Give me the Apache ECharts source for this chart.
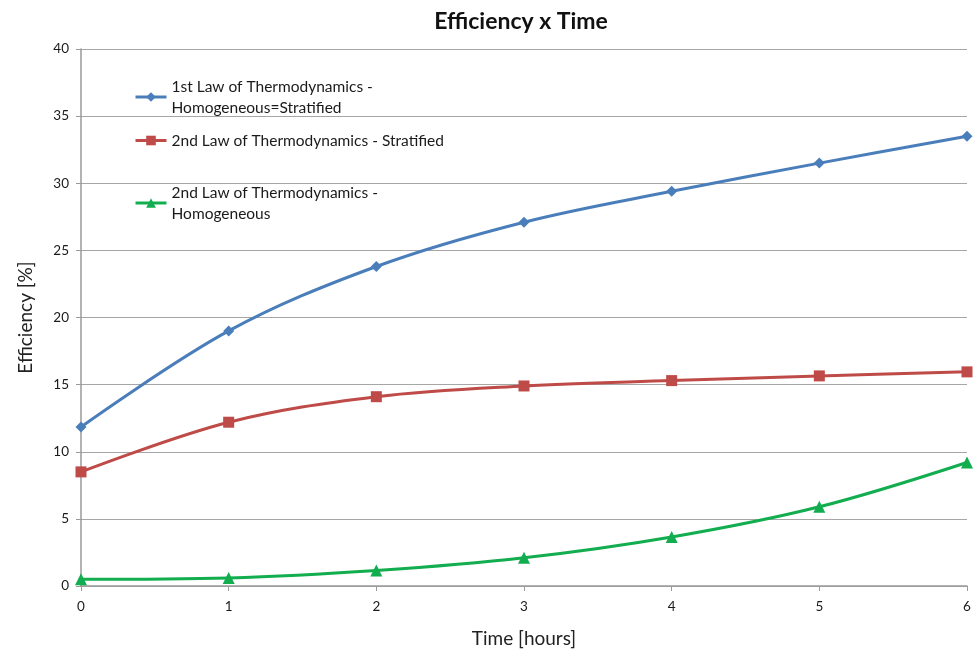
<!DOCTYPE html>
<html>
<head>
<meta charset="utf-8">
<script src="https://cdn.jsdelivr.net/npm/echarts@6/dist/echarts.min.js"></script>
<style>html,body{margin:0;padding:0;background:#fff}#c{width:977px;height:657px}</style>
</head>
<body>
<div id="c"></div>
<script>
var hours = [0, 1, 2, 3, 4, 5, 6];
var firstLaw = [11.85, 19.0, 23.8, 27.1, 29.4, 31.5, 33.5];
var secondLawStratified = [8.5, 12.2, 14.1, 14.9, 15.3, 15.65, 15.95];
var secondLawHomogeneous = [0.5, 0.6, 1.15, 2.1, 3.65, 5.9, 9.2];
var seriesNames = [
  '1st Law of Thermodynamics - Homogeneous=Stratified',
  '2nd Law of Thermodynamics - Stratified',
  '2nd Law of Thermodynamics - Homogeneous'
];
var legendLabels = [
  '1st Law of Thermodynamics -\nHomogeneous=Stratified',
  '2nd Law of Thermodynamics - Stratified',
  '2nd Law of Thermodynamics -\nHomogeneous'
];
var colors = ['#4a7ebb', '#be4b48', '#12ad4f'];
var symbols = ['diamond', 'rect', 'triangle'];
var symbolSizes = [11, 11, 12];
var allValues = [firstLaw, secondLawStratified, secondLawHomogeneous];

function pairs(vals) { return hours.map(function (h, i) { return [h, vals[i]]; }); }

var font = 'Lato, "Open Sans", sans-serif';
var legendTops = [71, 125, 177];
var legends = seriesNames.map(function (n, i) {
  return {
    data: [n],
    left: 129,
    top: legendTops[i],
    itemWidth: 31,
    itemHeight: 12,
    itemGap: 0,
    selectedMode: false,
    lineStyle: { width: 3 },
    formatter: function () { return legendLabels[i]; },
    textStyle: { fontFamily: font, fontSize: 15.5, color: '#1a1a1a', lineHeight: 21 }
  };
});

var chart = echarts.init(document.getElementById('c'), null, { renderer: 'canvas' });
chart.setOption({
  animation: false,
  color: colors,
  title: {
    text: 'Efficiency x Time',
    left: 516, top: 5, textAlign: 'center',
    textStyle: { fontFamily: font, fontSize: 23, fontWeight: 'bold', color: '#111' }
  },
  legend: legends,
  grid: { left: 81, right: 10, top: 49, bottom: 71 },
  xAxis: {
    type: 'value', min: 0, max: 6, interval: 1,
    name: 'Time [hours]', nameLocation: 'middle', nameGap: 43,
    nameTextStyle: { fontFamily: font, fontSize: 19, color: '#222' },
    axisLine: { lineStyle: { color: '#9a9a9a', width: 1.5 } },
    axisTick: { show: true, length: 5, lineStyle: { color: '#9a9a9a' } },
    axisLabel: { fontFamily: font, fontSize: 13.5, color: '#1a1a1a', margin: 14 },
    splitLine: { show: false }
  },
  yAxis: {
    type: 'value', min: 0, max: 40, interval: 5,
    name: 'Efficiency [%]', nameLocation: 'middle', nameGap: 46,
    nameTextStyle: { fontFamily: font, fontSize: 19, color: '#222' },
    axisLine: { show: true, lineStyle: { color: '#9a9a9a', width: 1.5 } },
    axisTick: { show: true, length: 5, lineStyle: { color: '#9a9a9a' } },
    axisLabel: { fontFamily: font, fontSize: 13.5, color: '#1a1a1a', margin: 12 },
    splitLine: { lineStyle: { color: '#a6a6a6', width: 1.2 } }
  },
  series: seriesNames.map(function (n, i) {
    return {
      name: n, type: 'line', smooth: 0.35,
      data: pairs(allValues[i]),
      symbol: symbols[i], symbolSize: symbolSizes[i],
      showAllSymbol: true,
      lineStyle: { width: 3, color: colors[i] },
      itemStyle: { color: colors[i] },
      z: 3 - i
    };
  })
});
</script>
</body>
</html>
